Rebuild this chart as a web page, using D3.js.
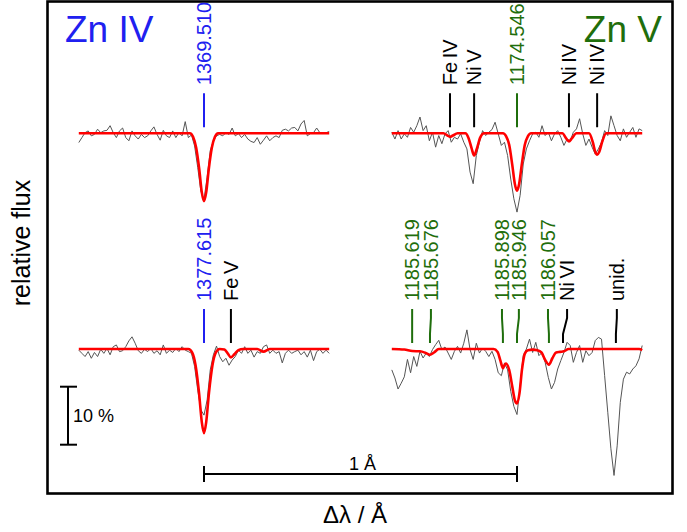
<!DOCTYPE html>
<html>
<head>
<meta charset="utf-8">
<script src="https://cdn.jsdelivr.net/npm/d3@7"></script>
<style>
  body { margin: 0; background: #fff; }
  svg { font-family: "Liberation Sans", Arial, sans-serif; }
</style>
</head>
<body>
<div id="chart"></div>
<script>
// spectra: flux deviation from continuum in %, sampled every dlStep Angstrom from dlStart
var dlStart = -0.40, dlStep = 0.01;

var zn4TopFlux = [-1.6,-0.75,0.1,0.4,-0.45,-0.2,0.7,0.1,0.4,0.5,
  1.3,0.1,-0.75,0.4,0.9,-0.75,-1.3,0.4,-0.45,-1.0,
  -0.2,-0.75,-0.45,0.4,1.1,-0.2,-1.2,0.5,-0.45,-0.75,
  0.4,-0.75,0.1,-0.45,2.0,-0.75,-0.3,-2.2,-5.9,-10,
  -11.4,-7.6,-3,-1.3,-0.45,-0.2,-0.45,0.1,-0.2,0.9,
  -0.45,-0.05,-0.75,-0.2,-1.0,-1.4,-1.6,-0.75,-1.9,-1.2,
  -0.45,-1.3,-0.75,-0.45,-0.75,0.5,0.7,0.4,0.9,1.0,
  0.4,1.6,2.2,-0.45,-0.05,0.1,0.9,0.1,-0.05,0.1,0.3];

var zn4BotFlux = [-0.2,-0.75,-1.3,-0.45,-1.6,-0.6,-1.3,-0.05,-0.75,0.1,
  -1.0,0.4,0.7,-0.45,-0.3,0.4,1.4,2.1,1.0,-0.3,
  -0.75,-0.05,-0.45,0.1,-0.75,-0.3,-1.0,0.7,-0.75,-0.2,
  -0.6,0.1,-0.45,0.4,-0.2,-0.45,-0.75,-3,-7.1,-10.5,
  -11.4,-8.8,-3.6,-1.0,0.5,-1.3,-2.2,-1.6,-2.8,-1.9,
  -1.3,-0.2,-0.75,0.4,-0.75,-0.2,-1.4,-0.45,-0.75,0.4,
  0.7,-0.75,-0.2,-0.75,-0.45,-2.4,-0.75,-0.2,-0.75,-0.45,
  -0.2,-1.0,-0.45,-1.4,-0.2,-2.0,-0.45,-0.05,-0.75,-0.2,-0.75];

var zn5TopFlux = [0.17,-1.0,0.45,-1.0,-0.1,-0.7,1.0,0.17,1.3,2.8,
  0.45,1.3,-1.3,0.17,-2.4,-0.4,-1.8,-0.1,0.45,-1.55,
  -0.7,-1.0,-0.1,-1.55,-2.7,-6.7,-8.7,-3.85,-1.55,0.45,
  -0.4,0.17,0.63,1.9,-0.1,-2.1,-1.55,-3.85,-7.9,-11.3,
  -13.6,-10.7,-5.3,-2.7,-1.3,-0.1,0.17,-0.7,1.3,-0.4,
  0.17,-1.3,-0.1,0.45,-0.7,-2.1,-1.0,-1.3,0.17,0.75,
  2.5,-0.1,-2.1,-1.0,-2.4,-3.6,-2.7,-1.55,0.45,-0.4,
  3.0,1.3,-0.4,-1.3,0.75,-0.7,0.17,1.0,-0.7,0.75,0.45];

var zn5BotFlux = [-3.6,-5.0,-6.9,-5.9,-4.8,-1.8,-4.1,-1.3,-3.0,-0.4,
  -1.55,-0.7,-1.3,-0.1,0.75,1.5,-0.1,0.35,-0.7,-1.8,
  -0.4,0.45,-0.7,1.0,3.3,-0.1,-1.8,1.0,-0.7,0.17,
  -0.4,-1.3,-0.4,-1.8,-4.1,-4.6,-2.4,-3.6,-7.3,-9.9,
  -11.3,-6.3,-1.15,0,1.7,-0.6,1.15,-1.15,-0.6,-2.3,
  -4.9,-6.9,-5.75,-3.45,-2.0,-0.6,1.15,0.6,-2.3,-0.6,
  0.6,-2.3,-0.3,-1.15,-0.6,1.45,2.0,1.7,-4.6,-10.9,
  -17.2,-21.8,-16.7,-9.2,-5.2,-4.0,-4.3,-3.45,-2.9,-1.7,0.6];

// model fits: [delta lambda, % deviation]
var zn4TopModel = [[-0.4,0],[-0.045,0],[-0.035,-0.6],[-0.025,-2.5],[-0.015,-6.3],[-0.007,-10.2],[0,-11.7],
  [0.007,-10.2],[0.015,-6.3],[0.025,-2.5],[0.035,-0.6],[0.045,0],[0.4,0]];

var zn4BotModel = [[-0.4,0],[-0.05,0],[-0.038,-0.6],[-0.027,-2.8],[-0.016,-7.5],[-0.007,-12.6],[0,-14.5],
  [0.007,-12.6],[0.016,-7.5],[0.027,-2.8],[0.038,-0.6],[0.05,0],[0.065,-0.1],[0.075,-0.7],[0.086,-1.45],
  [0.097,-0.9],[0.11,-0.2],[0.125,0],[0.17,0],[0.19,-0.45],[0.21,0],[0.4,0]];

var zn5TopModel = [[-0.4,0],[-0.235,0],[-0.222,-0.4],[-0.214,-0.6],[-0.205,-0.4],[-0.19,0],
  [-0.165,0],[-0.155,-0.8],[-0.145,-2.6],[-0.137,-3.85],[-0.128,-2.6],[-0.118,-0.8],[-0.105,0],
  [-0.045,0],[-0.035,-0.5],[-0.025,-2],[-0.015,-5.5],[-0.007,-8.7],[0,-9.9],[0.007,-8.7],[0.015,-5.5],
  [0.025,-2],[0.035,-0.5],[0.045,0],[0.145,0],[0.157,-0.9],[0.166,-1.4],[0.175,-0.9],[0.19,0],
  [0.23,0],[0.242,-1.5],[0.25,-3.2],[0.256,-3.7],[0.263,-3.2],[0.272,-1.5],[0.285,0],[0.4,0]];

var zn5BotModel = [[-0.4,0],[-0.36,-0.1],[-0.335,-0.35],[-0.31,-0.4],[-0.293,-0.65],[-0.278,-1.0],
  [-0.265,-0.6],[-0.25,0],[-0.075,0],[-0.062,-0.5],[-0.053,-2.0],[-0.045,-3.3],[-0.036,-2.5],
  [-0.025,-3.6],[-0.015,-6.5],[-0.007,-8.8],[0,-9.4],[0.008,-7.6],[0.016,-3.5],[0.025,-0.8],
  [0.035,-0.2],[0.05,-0.1],[0.065,-0.2],[0.078,-0.6],[0.09,-1.9],[0.102,-2.7],[0.113,-1.6],
  [0.125,-0.6],[0.138,-0.5],[0.15,-0.4],[0.165,0],[0.39,0],[0.4,-0.2]];

// line identifications
var zn4TopLabels = ["1369.510"];
var zn4TopLineDl = [0];
var zn4TopLabelDl = [0];

var zn4BotLabels = ["1377.615", "Fe V"];
var zn4BotLineDl = [0, 0.086];
var zn4BotLabelDl = [0, 0.086];

var zn5TopLabels = ["Fe IV", "Ni V", "1174.546", "Ni IV", "Ni IV"];
var zn5TopLineDl = [-0.214, -0.137, 0, 0.166, 0.256];
var zn5TopLabelDl = [-0.214, -0.137, 0, 0.166, 0.256];

var zn5BotLabels = ["1185.619", "1185.676", "1185.898", "1185.946", "1186.057", "Ni VI", "unid."];
var zn5BotLineDl = [-0.335, -0.278, -0.045, 0, 0.102, 0.147, 0.316];
var zn5BotLabelDl = [-0.335, -0.275, -0.048, 0.006, 0.099, 0.16, 0.319];

var rowOffset = [0.372, 0];   // top row shifted up in relative flux

var W = 687, H = 532;
var blue = "#2020f0", green = "#1f6e0c";

var svg = d3.select("#chart").append("svg")
  .attr("width", W).attr("height", H);

// Zn IV panels sit at 0, Zn V panels at +1 A
var x = d3.scaleLinear().domain([0, 1]).range([204, 517]);
var y = d3.scaleLinear().domain([1, 1.1]).range([349, 291]);

svg.append("rect")
  .attr("x", 47.5).attr("y", 1.5)
  .attr("width", 625).attr("height", 492)
  .attr("fill", "none").attr("stroke", "#000").attr("stroke-width", 2.6);

var panels = [
  {flux: zn4TopFlux, model: zn4TopModel, labels: zn4TopLabels, lineDl: zn4TopLineDl, labelDl: zn4TopLabelDl, shift: 0, row: 0, col: blue},
  {flux: zn5TopFlux, model: zn5TopModel, labels: zn5TopLabels, lineDl: zn5TopLineDl, labelDl: zn5TopLabelDl, shift: 1, row: 0, col: green},
  {flux: zn4BotFlux, model: zn4BotModel, labels: zn4BotLabels, lineDl: zn4BotLineDl, labelDl: zn4BotLabelDl, shift: 0, row: 1, col: blue},
  {flux: zn5BotFlux, model: zn5BotModel, labels: zn5BotLabels, lineDl: zn5BotLineDl, labelDl: zn5BotLabelDl, shift: 1, row: 1, col: green}
];

panels.forEach(function(p) {
  var base = 1 + rowOffset[p.row];
  var g = svg.append("g");

  var obs = d3.line()
    .x(function(v, i) { return x(p.shift + dlStart + i * dlStep); })
    .y(function(v) { return y(base + v / 100); });
  g.append("path")
    .attr("d", obs(p.flux))
    .attr("fill", "none").attr("stroke", "#555").attr("stroke-width", 1);

  var fit = d3.line()
    .curve(d3.curveMonotoneX)
    .x(function(d) { return x(p.shift + d[0]); })
    .y(function(d) { return y(base + d[1] / 100); });
  g.append("path")
    .attr("d", fit(p.model))
    .attr("fill", "none").attr("stroke", "#ff0000").attr("stroke-width", 2.6)
    .attr("stroke-linejoin", "round");

  var cont = y(base);
  var yTop = cont - 40, yBot = cont - 6, yLab = cont - 48;

  p.labels.forEach(function(lab, i) {
    var isZn = /^\d/.test(lab);
    var c = isZn ? p.col : "#000";
    var lx = x(p.shift + p.labelDl[i]), mx = x(p.shift + p.lineDl[i]);
    var path = d3.path();
    path.moveTo(lx, yTop);
    path.lineTo(lx, yTop + 9);
    path.lineTo(mx, yBot - 9);
    path.lineTo(mx, yBot);
    g.append("path")
      .attr("d", path.toString())
      .attr("fill", "none").attr("stroke", c).attr("stroke-width", 2)
      .attr("stroke-linejoin", "round");

    g.append("text")
      .attr("transform", "translate(" + lx + "," + yLab + ") rotate(-90)")
      .attr("dy", "0.36em")
      .style("font-size", "20px")
      .style("word-spacing", isZn ? "0px" : "-2px")
      .attr("fill", c)
      .text(lab);
  });
});

// ion titles
svg.append("text").attr("x", 65).attr("y", 42)
  .style("font-size", "37px").attr("fill", blue).text("Zn IV");
svg.append("text").attr("x", 662).attr("y", 42).attr("text-anchor", "end")
  .style("font-size", "37px").attr("fill", green).text("Zn V");

// 10 % bar
var bar = svg.append("g").attr("stroke", "#000").attr("stroke-width", 2);
var b0 = y(0.935), b1 = y(0.835);
bar.append("line").attr("x1", 68).attr("x2", 68).attr("y1", b0).attr("y2", b1);
bar.append("line").attr("x1", 60).attr("x2", 77).attr("y1", b0).attr("y2", b0);
bar.append("line").attr("x1", 60).attr("x2", 77).attr("y1", b1).attr("y2", b1);
svg.append("text").attr("x", 73).attr("y", (b0 + b1) / 2 + 6)
  .style("font-size", "18px").text("10 %");

// 1 A bar
var sb = svg.append("g").attr("stroke", "#000").attr("stroke-width", 2);
sb.append("line").attr("x1", x(0)).attr("x2", x(1)).attr("y1", 474).attr("y2", 474);
sb.append("line").attr("x1", x(0)).attr("x2", x(0)).attr("y1", 466).attr("y2", 482);
sb.append("line").attr("x1", x(1)).attr("x2", x(1)).attr("y1", 466).attr("y2", 482);
svg.append("text").attr("x", x(0.5) + 2).attr("y", 470).attr("text-anchor", "middle")
  .style("font-size", "18px").text("1 Å");

// axis titles
svg.append("text").attr("x", 355).attr("y", 523).attr("text-anchor", "middle")
  .style("font-size", "24px").text("Δλ / Å");
svg.append("text")
  .attr("transform", "translate(30,243) rotate(-90)")
  .attr("text-anchor", "middle")
  .style("font-size", "25px").text("relative flux");
</script>
</body>
</html>
